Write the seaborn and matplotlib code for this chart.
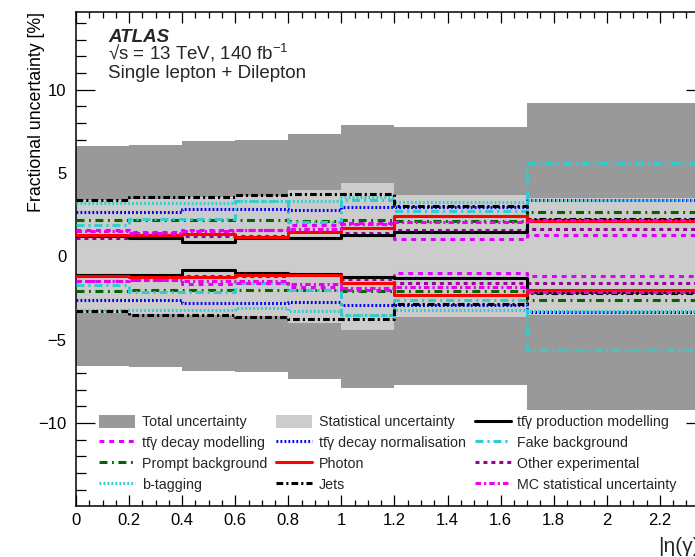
import numpy as np
import pandas as pd
import matplotlib
matplotlib.use("Agg")
import matplotlib.pyplot as plt
import seaborn as sns
from matplotlib.patches import Patch
from matplotlib.lines import Line2D
from matplotlib.ticker import MultipleLocator

# ---------------- data ----------------
edges = [0.0, 0.2, 0.4, 0.6, 0.8, 1.0, 1.2, 1.7, 2.37]

total_unc = [6.6, 6.65, 6.9, 6.95, 7.35, 7.9, 7.75, 9.2]
stat_unc = [3.4, 3.45, 3.55, 3.6, 4.0, 4.4, 3.65, 3.5]

prod_up = [1.2, 1.12, 0.86, 1.1, 1.12, 1.3, 1.45, 2.15]
prod_dn = [-1.15, -1.1, -0.8, -1.0, -1.05, -1.25, -1.3, -2.15]

decaymod_up = [1.55, 1.45, 1.6, 1.6, 1.9, 2.0, 1.05, 1.25]
decaymod_dn = [-1.5, -1.45, -1.65, -1.6, -1.85, -2.0, -0.98, -1.2]

decaynorm_up = [2.65, 2.65, 2.85, 2.85, 2.75, 2.95, 2.95, 3.35]
decaynorm_dn = [-2.6, -2.6, -2.8, -2.8, -2.75, -2.9, -2.95, -3.35]

fake_up = [1.85, 2.25, 2.25, 3.3, 2.05, 3.4, 2.7, 5.6]
fake_dn = [-1.75, -2.15, -2.15, -1.6, -2.0, -3.55, -2.65, -5.6]

prompt_up = [2.2, 2.15, 2.15, 2.15, 2.1, 2.15, 2.1, 2.65]
prompt_dn = [-2.1, -2.05, -2.05, -2.05, -2.05, -2.1, -2.1, -2.6]

photon_up = [1.25, 1.3, 1.35, 1.15, 1.45, 1.7, 2.4, 2.1]
photon_dn = [-1.2, -1.25, -1.25, -1.1, -1.1, -1.6, -2.3, -2.05]

otherexp_up = [1.1, 1.15, 1.2, 1.2, 1.1, 1.4, 1.6, 1.65]
otherexp_dn = [-1.1, -1.15, -1.2, -1.2, -1.15, -1.35, -1.6, -1.6]

btag_up = [3.2, 3.2, 3.2, 3.3, 3.3, 3.55, 3.25, 3.4]
btag_dn = [-3.2, -3.2, -3.2, -3.1, -3.3, -3.5, -3.2, -3.3]

jets_up = [3.35, 3.55, 3.55, 3.7, 3.75, 3.75, 3.0, 2.25]
jets_dn = [-3.3, -3.5, -3.5, -3.65, -3.75, -3.75, -2.85, -2.2]

mcstat_up = [1.5, 1.4, 1.5, 1.55, 1.65, 1.95, 2.05, 2.2]
mcstat_dn = [-1.5, -1.4, -1.5, -1.5, -1.65, -1.9, -1.85, -2.15]

TTG = "tt\u0304\u03b3"
labels = ["Total uncertainty", "Statistical uncertainty", TTG + " production modelling",
          TTG + " decay modelling", TTG + " decay normalisation", "Fake background",
          "Prompt background", "Photon", "Other experimental",
          "b-tagging", "Jets", "MC statistical uncertainty"]

# ---------------- style ----------------
sns.set_theme(style="ticks")
plt.rcParams['font.family'] = ['Liberation Sans', 'DejaVu Sans']
plt.rcParams['mathtext.fontset'] = 'custom'
plt.rcParams['mathtext.rm'] = 'Liberation Sans'
plt.rcParams['mathtext.it'] = 'Liberation Sans:italic'
plt.rcParams['mathtext.bf'] = 'Liberation Sans:bold'

fig = plt.figure(figsize=(6.95, 5.57), dpi=100)
W, H = 695, 557
x0, x1, y0, y1 = 76, 705, 12, 506
ax = fig.add_axes([x0 / W, 1 - y1 / H, (x1 - x0) / W, (y1 - y0) / H])


def ext(v):
    return list(v) + [v[-1]]


ax.fill_between(edges, [-v for v in ext(total_unc)], ext(total_unc), step='post',
                color='#999999', lw=0, zorder=1)
ax.fill_between(edges, [-v for v in ext(stat_unc)], ext(stat_unc), step='post',
                color='#cccccc', lw=0, zorder=2)

LW = 2.2
styles = {
    "prod": dict(color='black', linestyle='-'),
    "decaymod": dict(color='#dd00ff', linestyle=(0, (1.6, 1.6))),
    "decaynorm": dict(color='#0000ff', linestyle=(0, (0.6, 0.7))),
    "fake": dict(color='#33cccc', linestyle=(0, (2.6, 1.3, 0.7, 1.3))),
    "prompt": dict(color='#006600', linestyle=(0, (2.6, 1.5, 0.6, 1.5))),
    "photon": dict(color='#ff0000', linestyle='-'),
    "otherexp": dict(color='#990099', linestyle=(0, (1.3, 1.3))),
    "btag": dict(color='#33cccc', linestyle=(0, (0.6, 0.7))),
    "jets": dict(color='black', linestyle=(0, (2.2, 1.0, 0.7, 1.0))),
    "mcstat": dict(color='#ee00ee', linestyle=(0, (1.8, 1.0, 0.7, 1.0))),
}
series = [
    ("decaynorm", decaynorm_up, decaynorm_dn),
    ("btag", btag_up, btag_dn),
    ("prompt", prompt_up, prompt_dn),
    ("fake", fake_up, fake_dn),
    ("jets", jets_up, jets_dn),
    ("decaymod", decaymod_up, decaymod_dn),
    ("otherexp", otherexp_up, otherexp_dn),
    ("prod", prod_up, prod_dn),
    ("photon", photon_up, photon_dn),
    ("mcstat", mcstat_up, mcstat_dn),
]
for z, (key, up, dn) in enumerate(series):
    for vals in (up, dn):
        df = pd.DataFrame({"x": edges, "y": ext(vals)})
        sns.lineplot(data=df, x="x", y="y", ax=ax, estimator=None, errorbar=None,
                     drawstyle='steps-post', lw=LW, zorder=3 + z, legend=False,
                     **styles[key])

ax.set_xlim(0, 2.37)
ax.set_ylim(-14.98, 14.65)
ax.xaxis.set_major_locator(MultipleLocator(0.2))
ax.xaxis.set_minor_locator(MultipleLocator(0.05))
ax.yaxis.set_major_locator(MultipleLocator(5))
ax.yaxis.set_minor_locator(MultipleLocator(1))
ax.tick_params(axis='both', which='both', direction='in', top=True, right=True,
               width=0.9, color='black', labelsize=12, labelcolor='black')
ax.tick_params(axis='y', which='major', length=13.5, pad=7)
ax.tick_params(axis='y', which='minor', length=7)
ax.tick_params(axis='x', which='major', length=8, pad=5)
ax.tick_params(axis='x', which='minor', length=4.5)
ax.set_xticks([0, 0.2, 0.4, 0.6, 0.8, 1.0, 1.2, 1.4, 1.6, 1.8, 2.0, 2.2])
ax.set_xticklabels(["0", "0.2", "0.4", "0.6", "0.8", "1", "1.2", "1.4", "1.6",
                    "1.8", "2", "2.2"])
for s in ax.spines.values():
    s.set_linewidth(1.1)
    s.set_color('black')
ax.set_xlabel("")
ax.set_ylabel("Fractional uncertainty [%]", fontsize=12.8, loc='top', color='black')
ax.yaxis.set_label_coords((45 - x0) / (x1 - x0), 1.0)
fig.text(x1 / W, 1 - 546 / H, "|\u03b7(\u03b3)|", ha='right', va='center',
         fontsize=15)

# ATLAS label
ax.text(108 / W, 1 - 41.5 / H, "ATLAS", transform=fig.transFigure, fontsize=13.5,
        fontweight='bold', fontstyle='italic', ha='left', va='baseline')
ax.text(108 / W, 1 - 60 / H, "\u221as = 13 TeV, 140 fb$^{-1}$",
        transform=fig.transFigure, fontsize=13.5, ha='left', va='baseline')
ax.text(108 / W, 1 - 78 / H, "Single lepton + Dilepton", transform=fig.transFigure,
        fontsize=13.5, ha='left', va='baseline')

# Legend
def lh(key):
    return Line2D([], [], lw=LW, **styles[key])

h_total = Patch(facecolor='#999999', edgecolor='none')
h_stat = Patch(facecolor='#cccccc', edgecolor='none')
row_handles = [h_total, h_stat, lh("prod"),
               lh("decaymod"), lh("decaynorm"), lh("fake"),
               lh("prompt"), lh("photon"), lh("otherexp"),
               lh("btag"), lh("jets"), lh("mcstat")]
order = [0, 3, 6, 9, 1, 4, 7, 10, 2, 5, 8, 11]
leg = ax.legend([row_handles[i] for i in order], [labels[i] for i in order],
                ncol=3, frameon=False, fontsize=10.3,
                loc='upper left', bbox_to_anchor=((107 - x0) / (x1 - x0) - 0.012,
                                                   (y1 - 415) / (y1 - y0)),
                handlelength=2.5, handleheight=1.0, handletextpad=0.45,
                columnspacing=0.66, labelspacing=0.45, borderaxespad=0,
                borderpad=0)

fig.savefig("out.png", dpi=100)
